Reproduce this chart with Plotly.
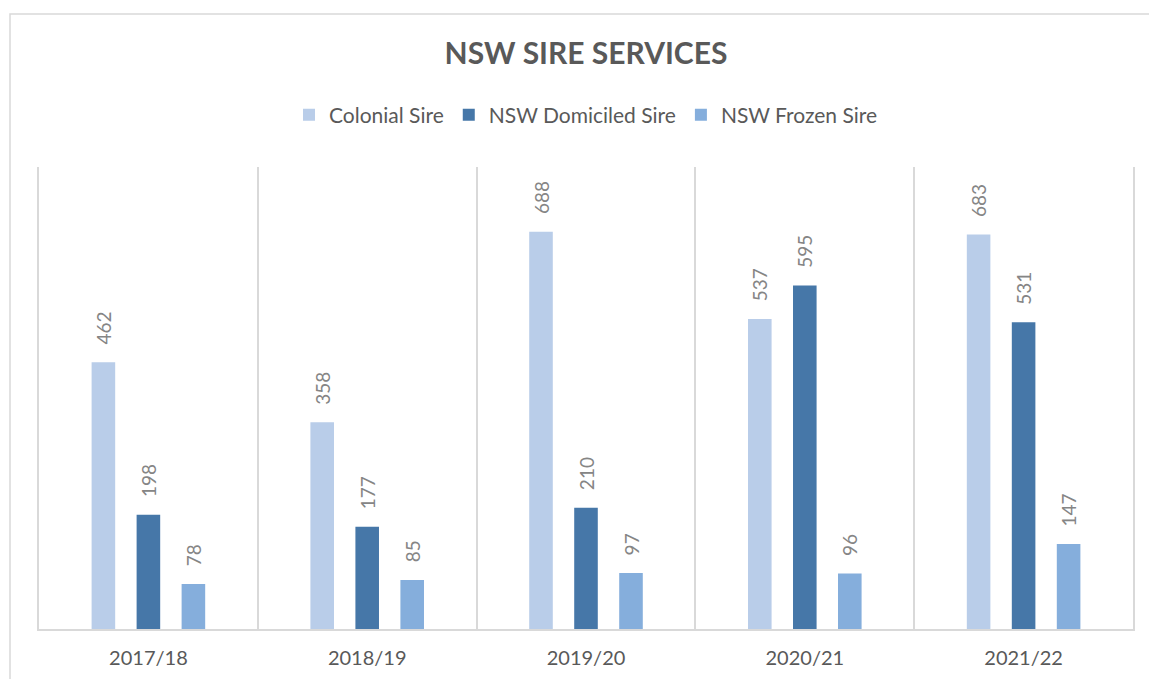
import plotly.graph_objects as go

years = ["2017/18", "2018/19", "2019/20", "2020/21", "2021/22"]
colonial = [462, 358, 688, 537, 683]
domiciled = [198, 177, 210, 595, 531]
frozen = [78, 85, 97, 96, 147]

series = [
    ("Colonial Sire", colonial, "#B9CDE9"),
    ("NSW Domiciled Sire", domiciled, "#4677A8"),
    ("NSW Frozen Sire", frozen, "#85AEDC"),
]

FONT = "Lato"
fig = go.Figure()
for name, vals, col in series:
    fig.add_trace(go.Bar(
        name=name, x=years, y=vals, marker=dict(color=col, line=dict(width=0)),
        text=vals, texttemplate="\u00a0\u00a0\u00a0%{text}", textposition="outside",
        textangle=-90, constraintext="none", cliponaxis=False,
        textfont=dict(family=FONT, size=19, color="#858585"),
    ))

fig.update_layout(
    width=1149, height=679,
    margin=dict(l=39, r=16, t=167, b=50),
    paper_bgcolor="white", plot_bgcolor="white",
    barmode="group", bargap=0.383, bargroupgap=0.476,
    title=dict(text="<b>NSW SIRE SERVICES</b>", x=0.5, xref="paper", xanchor="center",
               y=1 - 53 / 679, yanchor="middle",
               font=dict(family=FONT, size=30, color="#595959")),
    legend=dict(orientation="h", x=0.5, xanchor="center", y=(629 - 115) / 462, yanchor="middle",
                font=dict(family=FONT, size=21, color="#595959"), bgcolor="rgba(0,0,0,0)",
                itemwidth=30),
    showlegend=True,
    xaxis=dict(tickson="boundaries", showgrid=True, gridcolor="#D9D9D9", gridwidth=1.5,
               showline=True, linecolor="#D9D9D9", linewidth=1.5, automargin=False,
               ticks="", ticklabelstandoff=10,
               tickfont=dict(family=FONT, size=20, color="#595959")),
    yaxis=dict(range=[0, 800], showgrid=False, showticklabels=False, zeroline=False,
               showline=True, mirror=True, linecolor="#D9D9D9", linewidth=1.5, ticks=""),
    shapes=[dict(type="rect", xref="paper", yref="paper",
                 x0=(10 - 39) / 1094, x1=1.1, y0=-0.5, y1=(629 - 14) / 462,
                 line=dict(color="#D9D9D9", width=1.5), fillcolor="rgba(0,0,0,0)", layer="below")],
)

fig.write_html("out.html", config={"displayModeBar": False},
               post_script="document.body.style.margin='0';")
